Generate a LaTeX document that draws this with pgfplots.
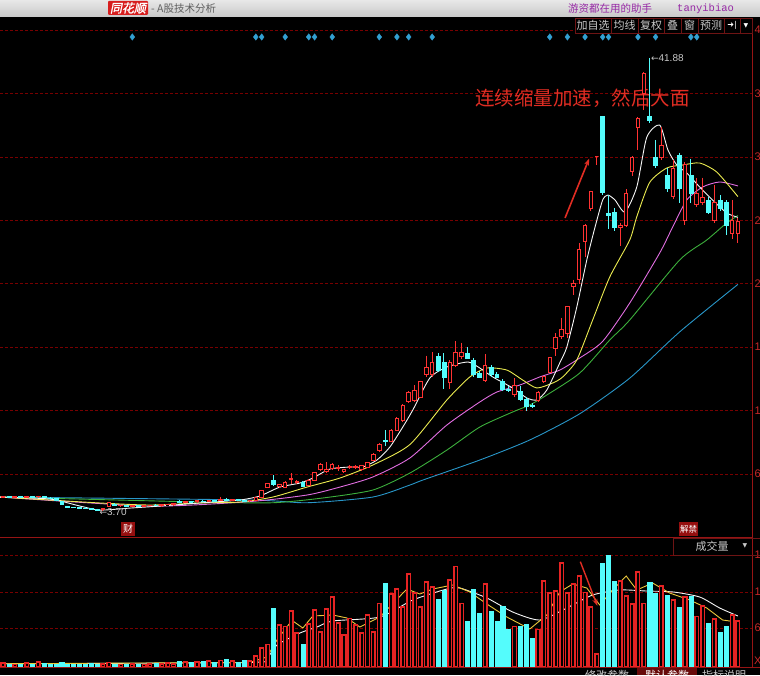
\documentclass[border=0pt]{standalone}
\usepackage{pgfplots}
\pgfplotsset{compat=1.18}
\usepackage{pgfplotstable}
\usepackage{fontspec}
\setmainfont{Liberation Sans}
\newfontfamily\cjk{Noto Sans CJK SC}
\newfontfamily\cjklogo[FakeSlant=0.2,FakeBold=1.5]{Noto Sans CJK SC}
\newfontfamily\dejavu{DejaVu Sans}
\newfontfamily\mono{Liberation Mono}
\usetikzlibrary{arrows.meta}

\definecolor{upred}{RGB}{255,50,50}
\definecolor{volred}{RGB}{230,35,35}
\definecolor{dncyan}{RGB}{84,252,252}
\definecolor{gridred}{RGB}{120,0,0}
\definecolor{axisred}{RGB}{150,20,20}
\definecolor{labred}{RGB}{200,40,40}
\definecolor{toolred}{RGB}{110,20,20}
\definecolor{markred}{RGB}{150,15,15}
\definecolor{annred}{RGB}{225,45,35}
\definecolor{maw}{RGB}{245,245,245}
\definecolor{may}{RGB}{235,235,80}
\definecolor{mam}{RGB}{225,110,225}
\definecolor{mag}{RGB}{60,175,60}
\definecolor{mab}{RGB}{40,150,200}
\definecolor{volyel}{RGB}{235,200,60}
\definecolor{diam}{RGB}{50,160,210}
\definecolor{titletop}{RGB}{232,232,232}
\definecolor{titlebot}{RGB}{200,200,200}
\definecolor{titlegray}{RGB}{95,95,95}
\definecolor{titlepurple}{RGB}{150,40,165}
\definecolor{logored}{RGB}{215,30,30}
\definecolor{uigray}{RGB}{200,200,200}

\pgfdeclareplotmark{nil}{}

% rising candles: i open high low close volume
\pgfplotstableread{
i o h l c v
0 4.85 4.95 4.80 4.90 0.6
2 4.86 4.95 4.83 4.92 0.4
4 4.88 4.96 4.85 4.93 0.6
6 4.90 4.98 4.86 4.94 0.8
17 3.82 3.95 3.80 3.92 0.5
18 4.10 4.42 4.08 4.38 0.7
20 4.14 4.22 4.08 4.18 0.4
22 4.10 4.20 4.06 4.16 0.5
24 4.12 4.22 4.10 4.18 0.4
25 4.18 4.24 4.12 4.20 0.5
27 4.15 4.26 4.12 4.22 0.5
28 4.22 4.30 4.16 4.25 0.6
29 4.25 4.34 4.18 4.30 0.5
31 4.45 4.55 4.40 4.50 0.8
33 4.48 4.58 4.45 4.55 0.8
35 4.52 4.64 4.50 4.60 0.9
37 4.62 4.90 4.58 4.66 1.0
39 4.62 4.70 4.56 4.66 0.9
42 4.55 4.66 4.52 4.62 0.9
43 4.63 4.92 4.60 4.88 1.7
44 4.88 5.47 4.85 5.39 2.9
45 5.72 6.05 5.65 5.98 3.5
47 5.75 6.00 5.68 5.95 6.5
48 5.72 6.20 5.68 6.14 6.2
49 6.40 6.90 6.00 6.45 8.6
50 6.10 6.30 6.02 6.20 5.2
52 5.89 6.38 5.85 6.31 6.6
53 6.31 6.98 6.28 6.91 8.8
54 7.16 7.75 7.10 7.66 5.4
55 7.00 7.83 6.95 7.16 8.9
56 7.25 7.75 7.20 7.66 10.8
57 7.30 7.60 7.10 7.35 6.8
58 7.00 7.25 6.95 7.16 4.9
59 7.38 7.55 7.25 7.42 7.5
60 7.40 7.58 7.28 7.45 6.5
61 7.16 7.55 7.10 7.50 5.2
62 7.41 7.85 7.38 7.75 8.0
63 8.00 8.60 7.95 8.50 5.4
64 8.80 9.40 8.75 9.30 9.8
66 9.60 10.60 9.50 10.50 11.2
67 10.50 11.60 10.45 11.50 12.0
68 11.30 12.70 11.20 12.60 9.2
69 12.90 13.80 12.80 13.70 14.3
70 13.0 14.3 12.9 13.9 11.4
71 13.3 14.7 13.2 14.6 9.2
72 15.2 16.8 15.0 15.8 13.1
73 15.2 17.1 15.0 16.2 12.3
76 14.5 16.4 14.0 16.2 13.4
77 16.0 18.0 15.8 17.1 15.5
78 16.7 17.9 16.5 17.1 9.8
82 14.7 16.9 14.6 16.0 12.8
87 13.5 14.9 13.3 14.3 6.2
91 13.0 13.8 12.9 13.7 5.8
92 14.6 15.1 14.5 15.0 13.2
93 15.4 16.7 15.3 16.6 11.4
94 17.4 18.7 16.8 18.3 11.7
95 18.4 20.0 18.2 19.0 16.0
96 18.7 21.0 18.3 20.9 11.4
97 22.6 23.2 21.9 22.9 12.8
98 23.2 26.3 22.8 25.7 14.0
99 26.4 27.9 25.1 27.8 11.5
100 29.2 30.7 29.0 30.6 9.2
101 33.6 33.6 32.9 33.6 2.0
105 27.6 28.0 26.0 27.8 13.2
106 27.8 30.8 27.6 30.5 10.9
107 32.3 33.6 31.9 33.5 9.7
108 36.0 36.9 34.1 36.8 14.6
109 38.9 40.7 37.5 40.6 9.8
112 33.5 36.1 33.3 34.5 12.5
114 30.2 33.3 30.0 32.6 10.3
116 28.2 33.1 27.8 32.9 10.8
118 29.5 31.8 29.3 30.5 7.8
119 29.7 31.8 29.5 30.1 9.4
121 28.2 31.2 28.0 29.7 7.4
124 27.1 29.9 26.6 28.2 8.0
125 27.1 28.4 26.3 28.1 7.1
}\uptab

% falling candles
\pgfplotstableread{
i o h l c v
1 4.92 4.96 4.84 4.86 0.5
3 4.92 4.97 4.86 4.88 0.5
5 4.93 4.98 4.87 4.90 0.4
7 4.94 4.97 4.80 4.84 0.6
8 4.80 4.86 4.70 4.76 0.5
9 4.76 4.80 4.55 4.60 0.4
10 4.50 4.55 4.18 4.25 0.7
11 4.10 4.14 3.98 4.05 0.5
12 4.02 4.05 3.95 4.00 0.4
13 3.98 4.02 3.92 3.96 0.4
14 3.96 4.00 3.90 3.94 0.4
15 3.92 3.95 3.84 3.88 0.6
16 3.86 3.90 3.70 3.80 0.5
19 4.30 4.36 4.12 4.16 0.5
21 4.18 4.22 4.06 4.10 0.4
23 4.16 4.22 4.08 4.12 0.4
26 4.20 4.26 4.12 4.15 0.6
30 4.55 4.60 4.40 4.45 0.9
32 4.50 4.58 4.44 4.48 0.7
34 4.55 4.62 4.48 4.52 0.9
36 4.60 4.66 4.52 4.56 0.8
38 4.70 4.82 4.58 4.62 1.2
40 4.66 4.72 4.58 4.62 0.8
41 4.60 4.66 4.50 4.55 1.0
46 6.31 6.74 5.81 5.98 9.1
51 6.14 6.20 5.75 5.81 3.5
65 9.70 10.50 9.20 9.60 12.9
74 16.7 17.0 15.4 15.6 10.5
75 16.2 17.0 14.0 15.0 11.8
79 17.0 17.5 16.5 16.6 7.1
80 16.4 16.6 15.0 15.2 12.0
81 15.3 15.5 14.9 15.0 8.3
83 15.8 16.0 15.0 15.2 8.6
84 15.2 15.4 14.9 15.0 7.1
85 14.6 14.8 13.8 14.0 9.4
86 14.0 14.2 13.7 13.9 5.8
88 13.8 14.2 13.0 13.1 6.3
89 13.1 13.3 12.1 12.5 6.6
90 12.6 12.8 12.4 12.55 4.5
102 37.0 37.0 30.3 30.6 16.0
103 28.8 30.3 27.5 28.6 17.2
104 28.9 29.2 27.3 27.6 13.2
110 37.0 41.88 36.4 36.6 13.1
111 33.5 34.97 32.6 32.8 11.4
113 32.0 32.6 30.6 30.9 11.1
115 33.7 33.9 29.7 30.9 9.2
117 32.0 33.4 29.7 30.5 10.9
120 29.9 30.2 28.7 28.9 6.8
122 29.9 30.3 29.0 29.2 5.4
123 29.7 29.9 27.0 27.8 6.2
}\dntab

\pgfplotsset{
  candle base/.style={only marks, mark=nil, scatter,
    visualization depends on={\thisrow{o}\as\cdO},
    visualization depends on={\thisrow{h}\as\cdH},
    visualization depends on={\thisrow{l}\as\cdL},
    visualization depends on={\thisrow{c}\as\cdC},
    scatter/@post marker code/.code={}},
  up candle/.style={candle base,
    scatter/@pre marker code/.code={%
      \pgfmathsetmacro\relH{\cdH-\cdC}%
      \pgfmathsetmacro\relO{\cdO-\cdC}%
      \pgfmathsetmacro\relL{\cdL-\cdC}%
      \draw[upred,line width=1pt] (axis direction cs:0,\relH) -- (axis direction cs:0,0)
        (axis direction cs:0,\relO) -- (axis direction cs:0,\relL);
      \filldraw[draw=upred,fill=black,line width=1pt] (axis direction cs:-0.3,\relO) rectangle (axis direction cs:0.3,0);
    }},
  down candle/.style={candle base,
    scatter/@pre marker code/.code={%
      \pgfmathsetmacro\relH{\cdH-\cdC}%
      \pgfmathsetmacro\relO{\cdO-\cdC}%
      \pgfmathsetmacro\relL{\cdL-\cdC}%
      \draw[dncyan,line width=0.9pt] (axis direction cs:0,\relH) -- (axis direction cs:0,\relL);
      \filldraw[dncyan,line width=0.6pt] (axis direction cs:-0.33,\relO) rectangle (axis direction cs:0.33,0);
    }},
  vol base/.style={only marks, mark=nil, scatter,
    visualization depends on={\thisrow{v}\as\cdV},
    scatter/@post marker code/.code={}},
  up vol/.style={vol base,
    scatter/@pre marker code/.code={%
      \pgfmathsetmacro\relV{-\cdV}%
      \filldraw[draw=volred,fill=black,line width=1.5pt] (axis direction cs:-0.3,0) rectangle (axis direction cs:0.3,\relV);
    }},
  down vol/.style={vol base,
    scatter/@pre marker code/.code={%
      \pgfmathsetmacro\relV{-\cdV}%
      \filldraw[dncyan,line width=0.5pt] (axis direction cs:-0.35,0) rectangle (axis direction cs:0.35,\relV);
    }},
  panel/.style={anchor=south west, scale only axis, width=752pt,
    xmin=-0.51, xmax=127.4,
    axis x line=none, axis y line*=right,
    y axis line style={draw=axisred, line width=0.8pt, -},
    major tick length=0pt,
    ymajorgrids, grid style={gridred, line width=0.6pt, dash pattern=on 3pt off 2pt},
    yticklabel style={text=labred, font=\fontsize{11}{11}\selectfont, xshift=-1pt}},
}

\begin{document}
\begin{tikzpicture}
\useasboundingbox (0,0) rectangle (760pt,675pt);
\clip (0,0) rectangle (760pt,675pt);
\fill[black] (0,0) rectangle (760pt,675pt);

% ---------- price panel ----------
\begin{axis}[panel, at={(0pt,142pt)}, height=515pt,
  ymin=1.85, ymax=45.25,
  ytick={6.82,12.17,17.51,22.86,28.20,33.55,38.90,44.24},
  yticklabels={6.82,12.17,17.51,22.86,28.20,33.55,38.90,44.24}]
\addplot[up candle] table[x=i,y=c]{\uptab};
\addplot[down candle] table[x=i,y=c]{\dntab};
% moving averages
\addplot[mab, line width=0.9pt, smooth, tension=0.4] coordinates {(-0.5,4.88) (42.0,4.63) (51.7,4.40) (62.9,4.88) (69.2,5.89) (71.4,6.31) (81.1,8.00) (89.6,9.69) (98.1,11.9) (106.6,14.9) (115.1,18.8) (125,22.8)};
\addplot[mag, line width=0.9pt, smooth, tension=0.4] coordinates {(-0.5,4.88) (33.5,4.46) (45.9,4.40) (54.4,4.80) (62.9,5.47) (69.2,6.90) (75.5,8.84) (81.1,10.78) (86.7,12.05) (89.6,12.64) (92.5,13.48) (98.1,15.33) (103.2,18.11) (106.6,19.80) (115.1,24.86) (119.7,26.54) (123.1,27.98) (125,28.6)};
\addplot[mam, line width=0.9pt, smooth, tension=0.4] coordinates {(-0.5,4.88) (25.0,4.12) (42.0,4.50) (51.7,5.05) (57.3,5.72) (62.9,6.57) (69.2,8.17) (75.5,10.95) (81.1,12.89) (84.0,13.73) (87.9,14.32) (91.3,15.00) (94.7,15.58) (98.1,16.60) (102.0,18.0) (106.6,21.23) (111.7,25.45) (113.9,27.63) (116.3,29.91) (119.0,31.01) (121.9,31.43) (125,31.1)};
\addplot[may, line width=0.9pt, smooth, tension=0.4] coordinates {(-0.5,4.88) (16.5,4.38) (25.0,4.21) (33.5,4.38) (40.3,4.46) (45.9,4.88) (51.7,5.72) (57.3,6.48) (62.9,7.58) (69.2,9.30) (75.5,13.06) (79.4,15.00) (82.3,15.75) (85.7,15.58) (88.4,14.74) (90.8,14.07) (93.5,14.49) (95.2,15.00) (97.6,16.43) (100.3,19.80) (103.2,23.42) (106.6,26.54) (107.8,28.5) (110.0,31.4) (112.9,32.61) (115.6,32.86) (118.5,33.03) (121.4,32.27) (125,30.2)};
\addplot[maw, line width=0.9pt, smooth, tension=0.4] coordinates {(-0.5,4.88) (8.0,4.71) (13.1,4.12) (16.5,3.78) (21.6,3.95) (26.7,4.12) (33.5,4.38) (40.3,4.63) (43.7,4.97) (47.1,5.72) (50.5,6.06) (52.7,6.48) (55.6,7.24) (59.0,7.41) (61.2,7.41) (63.6,8.00) (65.8,9.09) (68.0,10.78) (69.7,12.21) (72.6,14.91) (75.5,15.84) (79.1,16.26) (81.1,15.75) (83.3,15.00) (86.7,14.07) (89.1,13.23) (90.8,13.06) (92.5,13.90) (94.7,16.18) (95.9,17.52) (97.6,20.90) (99.3,24.86) (100.7,27.63) (102.0,29.91) (102.9,30.33) (104.1,29.91) (105.8,28.90) (107.8,31.01) (109.5,35.2) (111.7,36.23) (113.1,34.13) (114.6,32.86) (116.3,32.19) (118.5,31.01) (120.7,29.91) (123.1,28.82) (125,28.45)};
% event markers
\addplot[only marks, mark=diamond*, mark size=3.2pt, diam] coordinates {(22,43.65) (43,43.65) (44,43.65) (48,43.65) (52,43.65) (53,43.65) (56,43.65) (64,43.65) (67,43.65) (69,43.65) (73,43.65) (93,43.65) (96,43.65) (99,43.65) (102,43.65) (103,43.65) (108,43.65) (111,43.65) (117,43.65) (118,43.65)};
% annotations
\node[anchor=west, text=uigray, font=\fontsize{10}{10}\selectfont, inner sep=0pt] at (axis cs:110.2,41.88) {{\dejavu\fontsize{9}{9}\selectfont ←}41.88};
\node[anchor=west, text=uigray, font=\fontsize{10}{10}\selectfont, inner sep=0pt] at (axis cs:16.4,3.60) {{\dejavu\fontsize{9}{9}\selectfont ←}3.70};
\node[text=annred, font=\cjk\fontsize{19.5}{20}\selectfont, inner sep=0pt] at (axis cs:98.6,38.5) {连续缩量加速，然后大面};
\draw[annred, line width=1.6pt, -{Stealth[length=7pt,width=5pt]}] (axis cs:95.6,28.4) -- (axis cs:99.7,33.4);
\end{axis}

% ---------- volume panel ----------
\begin{axis}[panel, at={(0pt,8pt)}, height=127pt,
  ymin=0, ymax=19.54,
  ytick={6.00,11.54,17.23},
  yticklabels={6.00,11.54,17.23}]
\addplot[up vol] table[x=i,y=v]{\uptab};
\addplot[down vol] table[x=i,y=v]{\dntab};
\addplot[maw, line width=0.9pt, smooth, tension=0.4] coordinates {(-0.5,0.5) (42.0,0.7) (44.9,1.38) (46.6,3.38) (50.5,5.23) (53.4,6.15) (56.1,7.08) (64.1,7.69) (69.7,10.31) (75.5,12.0) (77.7,12.15) (82.3,10.62) (86.7,8.46) (91.3,7.23) (95.9,9.08) (100.3,11.08) (104.9,11.85) (109.5,11.69) (114.0,11.54) (118.5,10.77) (121.9,9.08) (125,7.85)};
\addplot[volyel, line width=0.9pt] coordinates {(-0.5,0.5) (42.0,0.7) (44.9,1.54) (46.6,4.15) (48.8,6.77) (49.3,7.08) (51.0,6.0) (52.7,7.85) (56.1,8.0) (58.5,7.54) (60.7,6.15) (64.1,7.69) (68.7,12.0) (70.9,11.23) (73.1,12.0) (76.5,12.62) (79.4,11.54) (82.3,9.69) (85.7,7.69) (89.6,5.85) (92.5,8.0) (94.7,11.54) (96.9,12.77) (99.3,12.15) (101.5,9.54) (103.7,11.85) (106.0,14.0) (107.8,11.85) (110.5,12.92) (113.4,11.38) (116.8,10.31) (119.7,9.08) (122.4,7.23) (125,6.9)};
\draw[annred, line width=1.4pt, -{Stealth[length=7pt,width=5pt]}] (axis cs:98.2,16.2) -- (axis cs:101.1,9.4);
\end{axis}

% ---------- frame lines ----------
\draw[axisred, line width=0.9pt] (0,137.5pt) -- (752pt,137.5pt);
\draw[axisred, line width=0.9pt] (0,8pt) -- (760pt,8pt);
\draw[axisred, line width=0.8pt] (752pt,8pt) -- (752pt,657pt);
\node[anchor=west, text=labred, font=\fontsize{11}{11}\selectfont, inner sep=0pt] at (754pt,14pt) {X100};

% markers on the date strip
\fill[markred] (121pt,139pt) rectangle (135pt,153pt);
\node[text=white, font=\cjk\fontsize{10}{10}\selectfont, inner sep=0pt] at (128pt,146pt) {财};
\fill[markred] (679pt,139pt) rectangle (698pt,153pt);
\node[text=white, font=\cjk\fontsize{8.5}{8.5}\selectfont, inner sep=0pt] at (688.5pt,146pt) {解禁};

% indicator selector
\fill[black] (673pt,120pt) rectangle (752pt,137pt);
\draw[toolred, line width=0.8pt] (673pt,120pt) rectangle (760pt,137pt);
\node[text=uigray, font=\cjk\fontsize{11}{11}\selectfont, inner sep=0pt] at (712pt,128.5pt) {成交量};
\node[text=uigray, font=\dejavu\fontsize{6}{6}\selectfont, inner sep=0pt] at (745pt,129pt) {▼};

% bottom tabs
\fill[markred!70!black] (637pt,0pt) rectangle (697pt,7.5pt);
\node[text=uigray, font=\cjk\fontsize{11}{11}\selectfont, inner sep=0pt] at (607pt,-0.5pt) {修改参数};
\node[text=white, font=\cjk\fontsize{11}{11}\selectfont, inner sep=0pt] at (667pt,-0.5pt) {默认参数};
\node[text=uigray, font=\cjk\fontsize{11}{11}\selectfont, inner sep=0pt] at (724pt,-0.5pt) {指标说明};

% toolbar
\fill[black] (575pt,642pt) rectangle (752pt,657pt);
\draw[toolred, line width=0.8pt] (575pt,642pt) rectangle (752pt,657pt);
\foreach \sx in {611,638,664,681,698,724,740} \draw[toolred, line width=0.8pt] (\sx pt,642pt) -- (\sx pt,657pt);
\foreach \tx/\tt in {593/加自选,624.5/均线,651/复权,672.5/叠,689.5/窗,711/预测}
  \node[text=uigray, font=\cjk\fontsize{11}{11}\selectfont, inner sep=0pt] at (\tx pt,649.5pt) {\tt};
\node[text=white, font=\dejavu\fontsize{8}{8}\selectfont, inner sep=0pt] at (732pt,649.5pt) {➜|};
\node[text=white, font=\dejavu\fontsize{6}{6}\selectfont, inner sep=0pt] at (746pt,649.5pt) {▼};

% title bar
\shade[top color=titletop, bottom color=titlebot] (0,658pt) rectangle (760pt,675pt);
\fill[logored, rounded corners=1pt] (108pt,660pt) rectangle (148pt,674pt);
\node[text=white, font=\cjklogo\fontsize{12}{12}\selectfont, inner sep=0pt] at (128pt,667pt) {同花顺};
\node[anchor=west, text=titlegray, font=\cjk\fontsize{10.5}{10.5}\selectfont, inner sep=0pt] at (151pt,666.5pt) {- A股技术分析};
\node[anchor=west, text=titlepurple, font=\cjk\fontsize{10.5}{10.5}\selectfont, inner sep=0pt] at (568pt,666.5pt) {游资都在用的助手};
\node[anchor=west, text=titlepurple, font=\mono\fontsize{10.5}{10.5}\selectfont, inner sep=0pt] at (677pt,666.5pt) {tanyibiao};
\end{tikzpicture}
\end{document}
